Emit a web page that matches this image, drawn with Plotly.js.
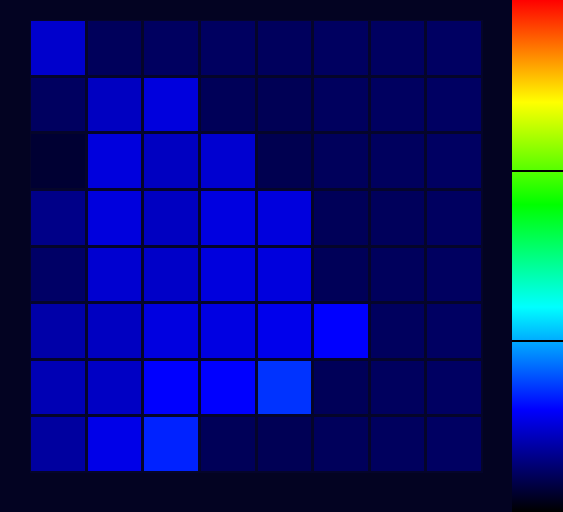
<!DOCTYPE html>
<html>
<head>
<meta charset="utf-8">
<script src="https://cdn.plot.ly/plotly-3.0.1.min.js"></script>
<style>html,body{margin:0;padding:0;background:#030322;}</style>
</head>
<body>
<div id="chart" style="width:563px;height:512px;"></div>
<script>
// values in colour-scale units (0..1)
var rowLabels = ['r0','r1','r2','r3','r4','r5','r6','r7'];
var colLabels = ['c0','c1','c2','c3','c4','c5','c6','c7'];
var row0 = [0.160, 0.071, 0.075, 0.075, 0.073, 0.075, 0.075, 0.077];
var row1 = [0.075, 0.151, 0.173, 0.069, 0.067, 0.074, 0.075, 0.077];
var row2 = [0.040, 0.173, 0.151, 0.163, 0.063, 0.071, 0.074, 0.077];
var row3 = [0.107, 0.173, 0.151, 0.176, 0.173, 0.069, 0.071, 0.075];
var row4 = [0.080, 0.163, 0.157, 0.173, 0.173, 0.069, 0.072, 0.075];
var row5 = [0.132, 0.151, 0.176, 0.177, 0.185, 0.200, 0.074, 0.077];
var row6 = [0.141, 0.154, 0.200, 0.200, 0.240, 0.069, 0.074, 0.077];
var row7 = [0.125, 0.182, 0.227, 0.069, 0.067, 0.071, 0.074, 0.077];
var z = [row0,row1,row2,row3,row4,row5,row6,row7];

var trace = {
  type: 'heatmap',
  z: z,
  x: colLabels,
  y: rowLabels,
  zmin: 0, zmax: 1,
  xgap: 3, ygap: 3,
  colorscale: [[0,'#000000'],[0.2,'#0000ff'],[0.4,'#00ffff'],[0.6,'#00ff00'],[0.8,'#ffff00'],[1,'#ff0000']],
  colorbar: {
    xref: 'container', x: 512/563, xanchor: 'left', xpad: 0,
    yref: 'paper', y: -39/453, yanchor: 'bottom', ypad: 0,
    len: 512, lenmode: 'pixels',
    thickness: 51, thicknessmode: 'pixels',
    outlinewidth: 0,
    tickvals: [1/3, 2/3],
    ticks: 'inside', ticklen: 51, tickwidth: 2, tickcolor: '#000000',
    showticklabels: false
  },
  hoverinfo: 'skip'
};

var layout = {
  width: 563, height: 512,
  margin: {l: 30, r: 80, t: 20, b: 39, pad: 0},
  paper_bgcolor: '#030322',
  plot_bgcolor: '#05052a',
  xaxis: {visible: false, showgrid: false, zeroline: false},
  yaxis: {visible: false, showgrid: false, zeroline: false, autorange: 'reversed'},
  showlegend: false
};

Plotly.newPlot('chart', [trace], layout, {displayModeBar: false, staticPlot: true});
</script>
</body>
</html>
